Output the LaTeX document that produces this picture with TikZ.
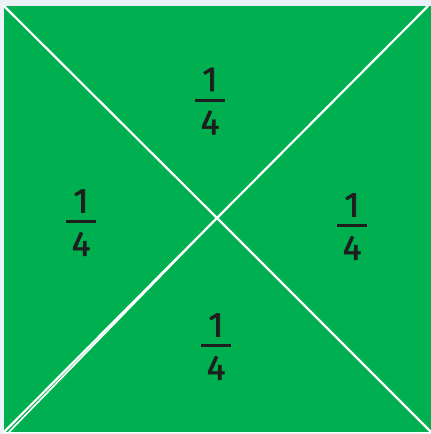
\documentclass[tikz,border=0pt]{standalone}
\usepackage{fontspec}
\setmainfont{Fira Sans}
\newfontfamily\digfont{Fira Sans}[FakeBold=1.6]
\definecolor{sqgreen}{HTML}{00B050}
\definecolor{pale}{HTML}{EAF2F8}
\definecolor{ink}{HTML}{1E1E1E}
\tikzset{
  cut/.style={draw=white, line width=2.2pt},
  digit/.style={text=ink, font=\digfont\fontsize{35}{38}\selectfont, inner sep=0pt},
  bar/.style={draw=ink, line width=3pt}
}
\newcommand{\quarter}[2]{%
  \node[digit] (#2n) at ($(#1)+(0,21)$) {1};
  \node[digit] (#2d) at ($(#1)+(0,-22)$) {4};
  \draw[bar] ($(#1)+(-15,0)$) -- ($(#1)+(15,0)$);
}
\usetikzlibrary{calc}
\begin{document}
\begin{tikzpicture}[x=1pt,y=1pt]
\useasboundingbox (0,0) rectangle (431,434);
\fill[pale] (0,0) rectangle (431,434);
\fill[sqgreen] (4,2) rectangle (431,428);
\coordinate (tl) at (4,428);
\coordinate (tr) at (428,428);
\coordinate (br) at (431,2);
\coordinate (bl) at (4,2);
\coordinate (bl2) at (9,2);
\coordinate (c) at (217,216);
\draw[cut] (tl) -- (c) -- (br);
\draw[cut] (tr) -- (c) -- (bl);
\draw[cut, line width=1.6pt] (c) -- (bl2);
\draw[white, line width=1pt] (4,1.5) -- (431,1.5);
\coordinate (ft) at (210,333.5);
\coordinate (fl) at (81,212);
\coordinate (fr) at (352,208);
\coordinate (fb) at (216,88);
\quarter{ft}{top}
\quarter{fl}{left}
\quarter{fr}{right}
\quarter{fb}{bot}
\end{tikzpicture}
\end{document}
